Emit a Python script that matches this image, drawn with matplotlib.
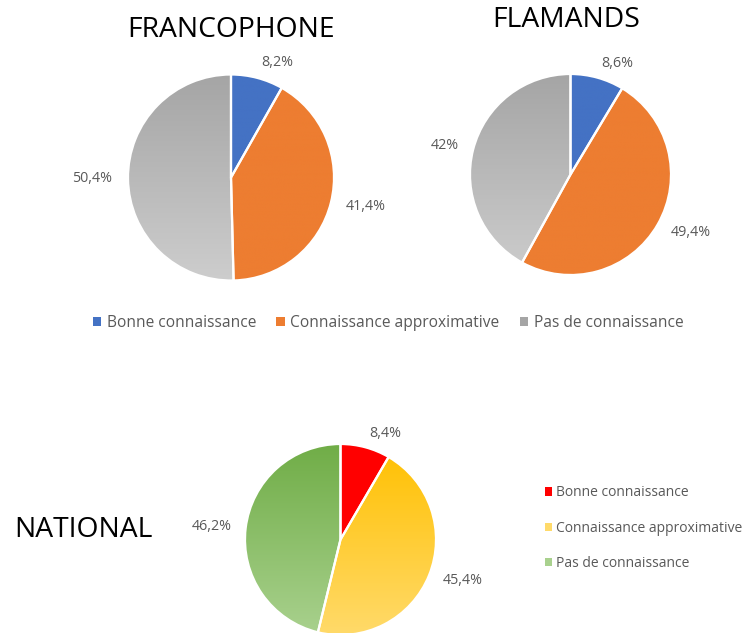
import numpy as np
import matplotlib
matplotlib.use("Agg")
import matplotlib.pyplot as plt
from matplotlib.patches import Patch
from matplotlib.colors import to_rgb

plt.rcParams['font.family'] = ['Open Sans', 'DejaVu Sans']

W, H = 748, 633

categories = ["Bonne connaissance", "Connaissance approximative", "Pas de connaissance"]
franco = [8.2, 41.4, 50.4]
flamands = [8.6, 49.4, 42.0]
national = [8.4, 45.4, 46.2]

# (top, bottom) colour per slice; same twice = flat colour
top_cols = [("#4472C4", "#4472C4"), ("#ED7D31", "#ED7D31"), ("#A5A5A5", "#CDCDCD")]
nat_cols = [("#FF0000", "#FF0000"), ("#FFC000", "#FFDA6A"), ("#70AD47", "#A9D18E")]

label_col = "#595959"


def fmt(v):
    s = ("%.1f" % v).replace(".", ",")
    if s.endswith(",0"):
        s = s[:-2]
    return s + "%"


def gradient(c1, c2, n=256):
    a = np.array(to_rgb(c1))
    b = np.array(to_rgb(c2))
    t = np.linspace(0, 1, n)[:, None]
    return (a * (1 - t) + b * t)[:, None, :]


def draw_pie(fig, cx, cy, r, values, cols):
    ax = fig.add_axes([(cx - r) / W, 1 - (cy + r) / H, 2 * r / W, 2 * r / H])
    wedges, texts = ax.pie(values, labels=[fmt(v) for v in values], startangle=90,
                           counterclock=False, labeldistance=1.15,
                           colors=["none"] * len(values),
                           wedgeprops=dict(edgecolor="white", linewidth=1.6),
                           textprops=dict(color=label_col, fontsize=10.3))
    for w, (c1, c2) in zip(wedges, cols):
        w.set_zorder(3)
        im = ax.imshow(gradient(c1, c2), extent=(-1, 1, -1, 1), aspect="auto",
                       origin="upper", zorder=2, interpolation="bilinear")
        im.set_clip_path(w)
    ax.set_xlim(-1, 1)
    ax.set_ylim(-1, 1)
    ax.axis("off")
    return ax


fig = plt.figure(figsize=(W / 100, H / 100), dpi=100)

draw_pie(fig, 231, 177.5, 103, franco, top_cols)
draw_pie(fig, 570.5, 174.5, 100.5, flamands, top_cols)
draw_pie(fig, 340.5, 539.5, 95.5, national, nat_cols)

fig.text(231 / W, 1 - 30 / H, "FRANCOPHONE", ha="center", va="center", fontsize=20.3, color="black")
fig.text(566 / W, 1 - 20 / H, "FLAMANDS", ha="center", va="center", fontsize=20.3, color="black")
fig.text(83.5 / W, 1 - 530 / H, "NATIONAL", ha="center", va="center", fontsize=20.3, color="black")

h_top = [Patch(facecolor=c[0]) for c in top_cols]
fig.legend(h_top, categories, loc="center", bbox_to_anchor=(388 / W, 1 - 323 / H), ncol=3,
           frameon=False, fontsize=11.2, labelcolor=label_col, handlelength=0.55,
           handleheight=0.55, handletextpad=0.35, columnspacing=1.3)

h_nat = [Patch(facecolor=c[1]) for c in nat_cols]
fig.legend(h_nat, categories, loc="upper left", bbox_to_anchor=(532 / W, 1 - 473 / H), ncol=1,
           frameon=False, fontsize=10, labelcolor=label_col, handlelength=0.55,
           handleheight=0.55, handletextpad=0.3, labelspacing=1.45)

fig.savefig("out.png", dpi=100)
